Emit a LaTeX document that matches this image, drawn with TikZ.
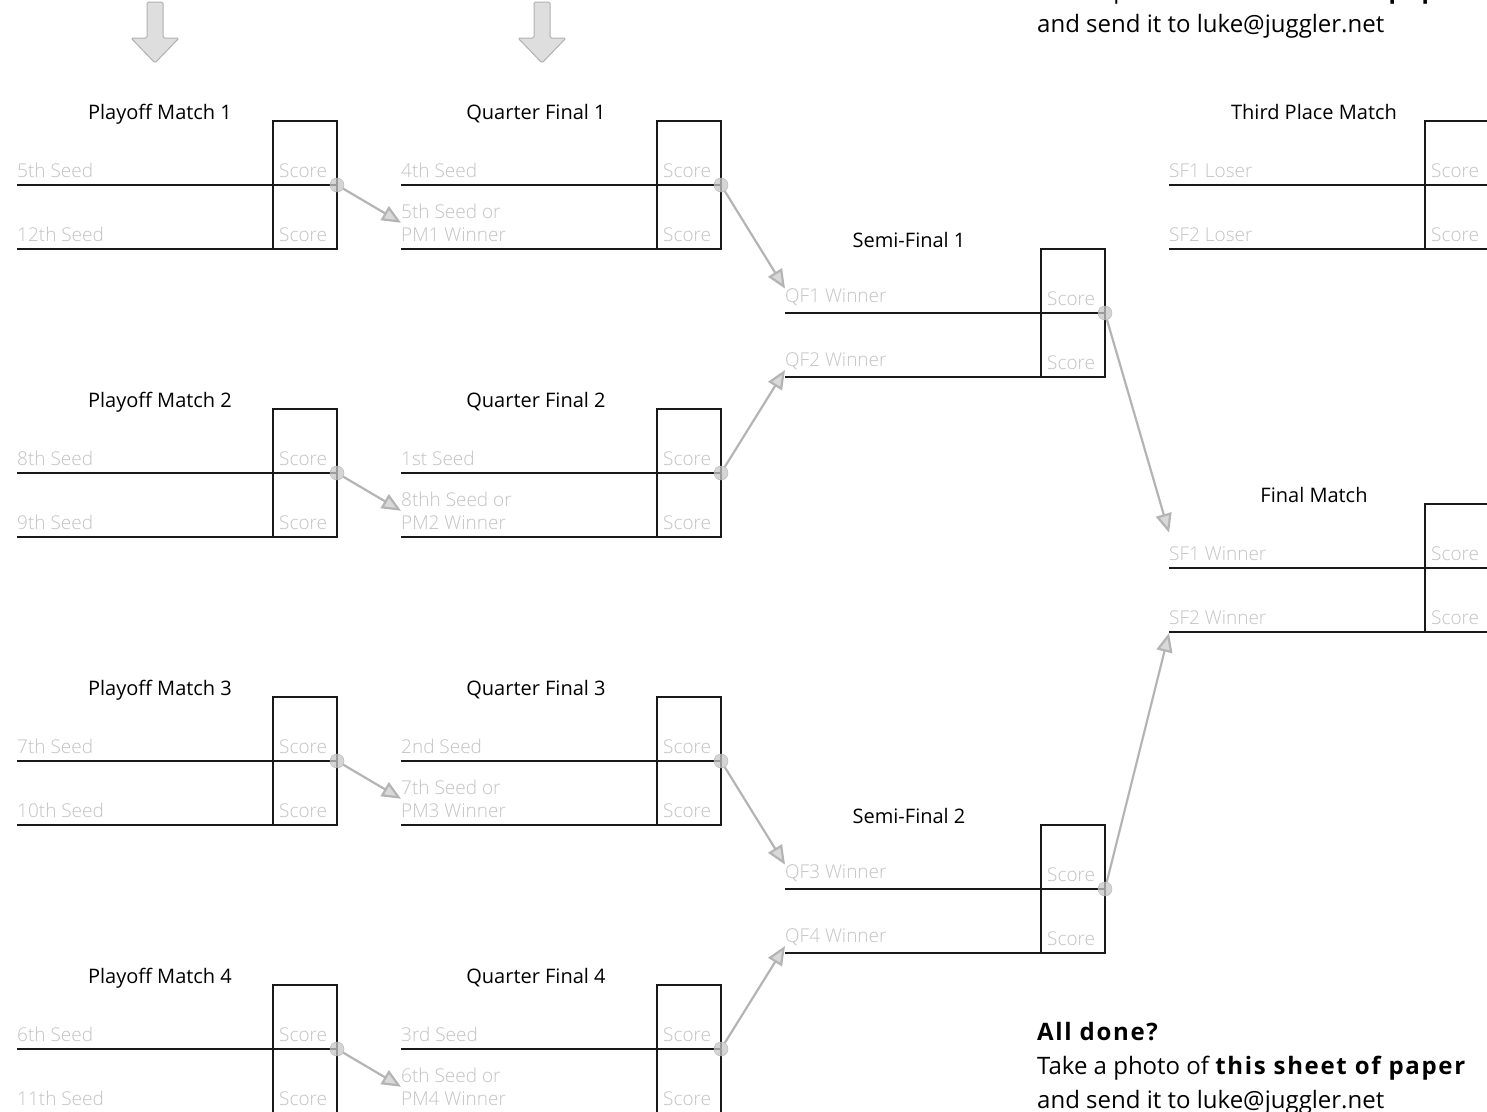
\documentclass[tikz,border=0pt]{standalone}
\usepackage{fontspec}
\setmainfont{Open Sans}
\IfFontExistsTF{Open Sans Light}
  {\newfontfamily\seedfont{Open Sans Light}}
  {\newfontfamily\seedfont{Open Sans}}
\usetikzlibrary{arrows.meta}
\definecolor{seedgray}{HTML}{C2C2C2}
\definecolor{pathgray}{HTML}{B4B4B4}
\definecolor{pathfill}{HTML}{D9D9D9}
\definecolor{cuefill}{HTML}{DEDEDE}
\definecolor{cueedge}{HTML}{B0B0B0}
\newcommand{\loud}[1]{{\bfseries\addfontfeatures{LetterSpace=7}#1}}

% name, top left corner, title centre, title, first entrant, second entrant
\newcommand{\matchblock}[6]{%
  \begin{scope}[shift={(#2)}]
    \draw[slotline] (0,64) -- (320,64) (0,128) -- (320,128);
    \draw[slotline] (256,0) rectangle (320,128);
    \node[heading] (#1) at (#3,-2) {#4};
    \node[seed] (#1-a) at (0,57) {#5};
    \node[seed] (#1-b) at (0,121) {#6};
    \node[seed] (#1-sa) at (262,57) {Score};
    \node[seed] (#1-sb) at (262,121) {Score};
    \coordinate (#1-win) at (320,64);
  \end{scope}}

\begin{document}
\begin{tikzpicture}[x=1pt,y=-1pt,
 heading/.style={anchor=base,inner sep=0pt,font=\fontsize{20}{24}\selectfont},
 seed/.style={anchor=south west,inner sep=0pt,align=left,text=seedgray,
   font=\seedfont\fontsize{19}{23.5}\selectfont},
 slotline/.style={line width=2pt,black!90},
 knob/.style={circle,minimum size=14pt,inner sep=0pt,fill=black!22,draw=black!30,
   fill opacity=.75},
 advance/.style={pathgray,line width=2.2pt,
   -{Triangle[length=19pt,width=16pt,fill=pathfill]}},
 cue/.style={fill=cuefill,draw=cueedge,line width=1pt,line join=round},
 note/.style={anchor=south west,inner sep=0pt,align=left,
   font=\fontsize{24}{34}\selectfont}]
\useasboundingbox (0,0) rectangle (1487,1111);
% hint arrows over the first two columns
\foreach \cx in {155,542}
  \draw[cue,rounded corners=1.5pt] (\cx-8,2) -- (\cx+8,2) -- (\cx+8,38)
    -- (\cx+24,38) -- (\cx,63) -- (\cx-24,38) -- (\cx-8,38) -- cycle;

\matchblock{pm1}{17,121}{143}{Playoff Match 1}{5th Seed}{12th Seed}
\matchblock{pm2}{17,409}{143}{Playoff Match 2}{8th Seed}{9th Seed}
\matchblock{pm3}{17,697}{143}{Playoff Match 3}{7th Seed}{10th Seed}
\matchblock{pm4}{17,985}{143}{Playoff Match 4}{6th Seed}{11th Seed}
\matchblock{qf1}{401,121}{135}{Quarter Final 1}{4th Seed}{5th Seed or\\PM1 Winner}
\matchblock{qf2}{401,409}{135}{Quarter Final 2}{1st Seed}{8thh Seed or\\PM2 Winner}
\matchblock{qf3}{401,697}{135}{Quarter Final 3}{2nd Seed}{7th Seed or\\PM3 Winner}
\matchblock{qf4}{401,985}{135}{Quarter Final 4}{3rd Seed}{6th Seed or\\PM4 Winner}
\matchblock{sf1}{785,249}{124}{Semi-Final 1}{QF1 Winner}{QF2 Winner}
\matchblock{sf2}{785,825}{124}{Semi-Final 2}{QF3 Winner}{QF4 Winner}
\matchblock{third}{1169,121}{145}{Third Place Match}{SF1 Loser}{SF2 Loser}
\matchblock{final}{1169,504}{145}{Final Match}{SF1 Winner}{SF2 Winner}

\foreach \m in {pm1,pm2,pm3,pm4,qf1,qf2,qf3,qf4,sf1,sf2}
  \node[knob] (\m-knob) at (\m-win) {};
\foreach \i in {1,...,4}
  \draw[advance] (pm\i-knob) -- (qf\i-b.west);
\draw[advance] (qf1-knob) -- (sf1-a.north west);
\draw[advance] (qf2-knob) -- (sf1-b.south west);
\draw[advance] (qf3-knob) -- (sf2-a.north west);
\draw[advance] (qf4-knob) -- (sf2-b.south west);
\draw[advance] (sf1-knob) -- ([yshift=14pt]final-a.north west);
\draw[advance] (sf2-knob) -- ([yshift=-8pt]final-b.south west);

% the same note sits at the foot and, cut off, at the top
\node[note] (done) at (1037,1114) {\loud{All done?}\\
  Take a photo of \loud{this sheet of paper}\\and send it to luke@juggler.net};
\node[note] (done-top) at (1037,38) {\loud{All done?}\\
  Take a photo of \loud{this sheet of paper}\\and send it to luke@juggler.net};
\end{tikzpicture}
\end{document}
